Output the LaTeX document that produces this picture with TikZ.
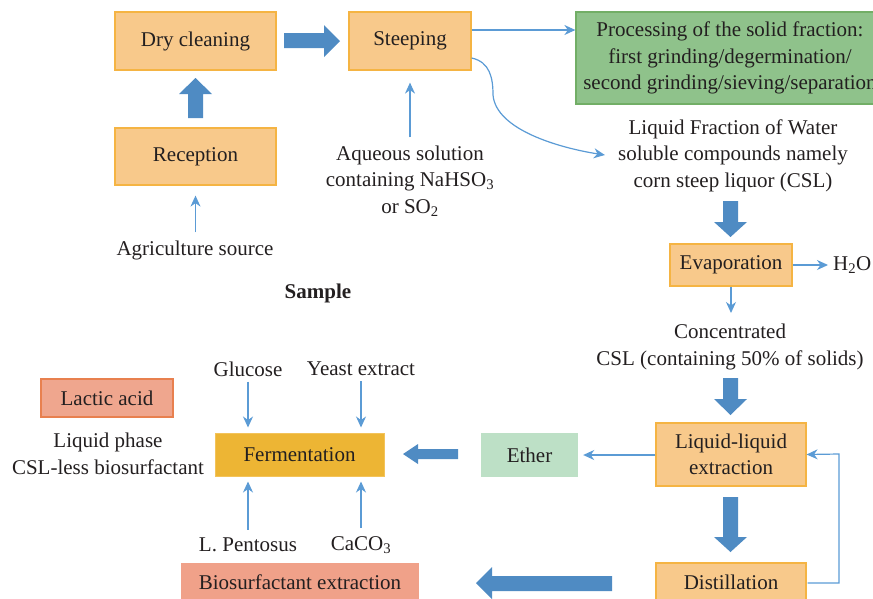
\documentclass[tikz,border=0pt]{standalone}
\usepackage{fontspec}
\setmainfont{Liberation Serif}
\usetikzlibrary{arrows.meta}
\definecolor{thinc}{HTML}{5B9BD5}
\definecolor{blkc}{HTML}{4F8BC3}
\definecolor{txt}{HTML}{231F20}
\definecolor{ofill}{HTML}{F8C98B}
\definecolor{odraw}{HTML}{F5B443}
\definecolor{gfill}{HTML}{8FC28B}
\definecolor{gdraw}{HTML}{72AE66}
\definecolor{efill}{HTML}{BDE0C6}
\definecolor{ffill}{HTML}{EDB534}
\definecolor{fdraw}{HTML}{F3C35A}
\definecolor{lfill}{HTML}{EFA68E}
\definecolor{ldraw}{HTML}{E8804F}
\definecolor{bfill}{HTML}{F0A189}
\begin{document}
\begin{tikzpicture}[x=1pt,y=-1pt,
  every node/.style={font=\fontsize{21}{26.5}\selectfont, text=txt, inner sep=0pt, align=center},
  obox/.style={fill=ofill, draw=odraw, line width=1.2pt},
  thinarrow/.style={draw=thinc, line width=1.2pt, -{Stealth[length=11pt,width=10pt,inset=3.5pt]}},
  blk/.style={fill=blkc}
]
\useasboundingbox (0,0) rectangle (873,598);
\clip (0,0) rectangle (873,598);

% boxes
\node[obox, minimum width=161pt, minimum height=58pt] (dry) at (195.5,41) {Dry cleaning};
\node[obox, minimum width=122pt, minimum height=58pt] (steep) at (410,41) {Steeping};
\node[obox, minimum width=161pt, minimum height=57pt] (recep) at (195.5,156.5) {Reception};
\node[fill=gfill, draw=gdraw, line width=1.2pt, minimum width=308pt, minimum height=92pt] (proc) at (730,58)
  {Processing of the solid fraction:\\first grinding/degermination/\\second grinding/sieving/separation};
\node[obox, minimum width=122pt, minimum height=42pt] (evap) at (731,265) {Evaporation};
\node[obox, minimum width=150pt, minimum height=63pt] (ll) at (731,454.5) {Liquid-liquid\\extraction};
\node[fill=efill, minimum width=97pt, minimum height=44pt] (ether) at (529.5,455) {Ether};
\node[fill=ffill, draw=fdraw, line width=1pt, minimum width=169pt, minimum height=43pt] (ferm) at (299.5,454.5) {Fermentation};
\node[fill=lfill, draw=ldraw, line width=1.2pt, minimum width=132pt, minimum height=38pt] (lactic) at (107,398) {Lactic acid};
\node[fill=bfill, minimum width=238pt, minimum height=38pt] (bio) at (300,582) {Biosurfactant extraction};
\node[obox, minimum width=150pt, minimum height=38pt] (dist) at (731,582) {Distillation};

% texts
\node (agri) at (195,250) {Agriculture source};
\node (aq) at (410,181) {Aqueous solution\\containing NaHSO\textsubscript{3}\\or SO\textsubscript{2}};
\node (liq) at (733,155.5) {Liquid Fraction of Water\\soluble compounds namely\\corn steep liquor (CSL)};
\node[anchor=west] (h2o) at (833,265) {H\textsubscript{2}O};
\node (conc) at (730,347) {Concentrated\\CSL (containing 50\% of solids)};
\node (glu) at (248,369) {Glucose};
\node (yeast) at (361,369) {Yeast extract};
\node (lpen) at (248,545) {L. Pentosus};
\node (caco) at (361,545) {CaCO\textsubscript{3}};
\node (lphase) at (108,454) {Liquid phase\\CSL-less biosurfactant};
\node[font=\fontsize{21}{26}\selectfont\bfseries] (sample) at (318,293) {Sample};

% thin connectors
\draw[thinarrow] ([yshift=8pt]agri.north -| recep.south) -- ([yshift=-10pt]recep.south);
\draw[thinarrow] ([yshift=8pt]aq.north) -- ([yshift=-12pt]steep.south);
\draw[thinarrow] (steep.east |- 0,30) -- (proc.west |- 0,30);
\draw[thinarrow] ([yshift=-17pt]steep.east) .. controls (490,62) and (493,78) .. (493,95)
   .. controls (496,130) and (560,148) .. ([xshift=-13pt]liq.west |- 0,155);
\draw[thinarrow] (evap.east) -- ([xshift=-5pt]h2o.west);
\draw[thinarrow] (evap.south) -- ([yshift=11pt]evap.south |- conc.north);
\draw[thinarrow] (ll.west |- ether.east) -- ([xshift=5pt]ether.east);
\draw[thinarrow] ([yshift=-5pt]glu.south) -- ([yshift=5pt]ferm.north -| glu);
\draw[thinarrow] ([yshift=-5pt]yeast.south) -- ([yshift=5pt]ferm.north -| yeast);
\draw[thinarrow] ([yshift=8pt]lpen.north) -- ([yshift=-5pt]ferm.south -| lpen);
\draw[thinarrow] ([yshift=8pt]caco.north -| caco) -- ([yshift=-5pt]ferm.south -| caco);
\draw[thinarrow] ([xshift=1pt]dist.east |- 0,583) -- (839,583) -- (839,454) -- (ll.east);

% block arrows
\fill[blk] (284,33)--(324,33)--(324,25)--(340,41)--(324,57)--(324,48)--(284,48)--cycle;
\fill[blk] (188,118)--(188,94)--(179,94)--(195.5,78)--(212,94)--(203,94)--(203,118)--cycle;
\fill[blk] (723,201)--(738,201)--(738,222)--(747,222)--(730.5,237)--(714,222)--(723,222)--cycle;
\fill[blk] (723,378)--(738,378)--(738,399)--(747,399)--(730.5,415)--(714,399)--(723,399)--cycle;
\fill[blk] (723,497)--(738,497)--(738,537)--(747,537)--(730.5,552)--(714,537)--(723,537)--cycle;
\fill[blk] (458,449)--(418,449)--(418,444)--(403,454)--(418,464)--(418,459)--(458,459)--cycle;
\fill[blk] (612,576)--(492,576)--(492,567)--(476,583)--(492,599)--(492,591)--(612,591)--cycle;
\end{tikzpicture}
\end{document}
